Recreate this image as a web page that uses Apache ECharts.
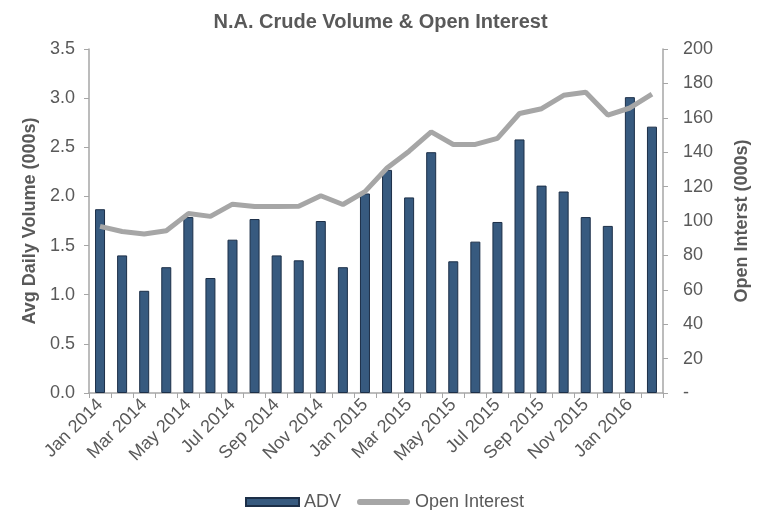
<!DOCTYPE html>
<html>
<head>
<meta charset="utf-8">
<script src="https://cdn.jsdelivr.net/npm/echarts@6/dist/echarts.min.js"></script>
<style>
  html, body { margin: 0; padding: 0; background: #fff; }
  #chart { width: 761px; height: 510px; }
</style>
</head>
<body>
<div id="chart"></div>
<script>
// 月份
const months = [
  "Jan 2014", "Feb 2014", "Mar 2014", "Apr 2014", "May 2014", "Jun 2014",
  "Jul 2014", "Aug 2014", "Sep 2014", "Oct 2014", "Nov 2014", "Dec 2014",
  "Jan 2015", "Feb 2015", "Mar 2015", "Apr 2015", "May 2015", "Jun 2015",
  "Jul 2015", "Aug 2015", "Sep 2015", "Oct 2015", "Nov 2015", "Dec 2015",
  "Jan 2016", "Feb 2016"
];
// 日均成交量 (000s)
const adv = [
  1.87, 1.40, 1.04, 1.28, 1.79, 1.17, 1.56, 1.77, 1.40, 1.35, 1.75, 1.28,
  2.03, 2.27, 1.99, 2.45, 1.34, 1.54, 1.74, 2.58, 2.11, 2.05, 1.79, 1.70,
  3.01, 2.71
];
// 持仓量 (000s)
const openInterest = [
  96.9, 93.9, 92.5, 94.3, 104.3, 102.7, 109.8, 108.4, 108.4, 108.6, 114.7, 109.6,
  117.1, 130.8, 140.6, 151.8, 144.5, 144.5, 148.0, 162.5, 165.3, 173.1, 174.9, 161.6,
  165.7, 173.7
];

const textColor = "#595959";
const axisColor = "#a6a6a6";
const font = "'Liberation Sans', Arial, sans-serif";

const chart = echarts.init(document.getElementById("chart"));
chart.setOption({
  animation: false,
  textStyle: { fontFamily: font },
  title: {
    text: "N.A. Crude Volume & Open Interest",
    left: "center",
    top: 7,
    textStyle: { color: textColor, fontSize: 20, fontWeight: "bold", fontFamily: font },
  },
  legend: {
    top: 488,
    left: 240,
    itemWidth: 53,
    itemHeight: 8,
    itemGap: 16,
    textStyle: { color: textColor, fontSize: 18, fontFamily: font },
    data: [
      { name: "ADV", icon: "rect" },
      // 灰色圆角线段图例
      { name: "Open Interest", icon: "path://M3,0 L52,0 A3,3 0 0 1 52,6 L3,6 A3,3 0 0 1 3,0 Z" },
    ],
  },
  grid: { left: 89, right: 98, top: 49, bottom: 117 },
  xAxis: {
    type: "category",
    data: months,
    axisLine: { lineStyle: { color: axisColor, width: 1.5 } },
    axisTick: { show: true, interval: 0, length: 5, lineStyle: { color: axisColor } },
    axisLabel: {
      interval: 1,
      rotate: 45,
      color: textColor,
      fontSize: 18,
      margin: 9,
    },
  },
  yAxis: [
    {
      type: "value",
      name: "Avg Daily Volume (000s)",
      nameLocation: "middle",
      nameGap: 50,
      nameTextStyle: { color: textColor, fontSize: 18, fontWeight: "bold" },
      min: 0,
      max: 3.5,
      interval: 0.5,
      axisLine: { show: true, lineStyle: { color: axisColor, width: 1.5 } },
      axisTick: { show: true, length: 5, lineStyle: { color: axisColor } },
      splitLine: { show: false },
      axisLabel: {
        color: textColor,
        fontSize: 18,
        margin: 14,
        formatter: (v) => v.toFixed(1),
      },
    },
    {
      type: "value",
      name: "Open Interst (000s)",
      nameLocation: "middle",
      nameGap: 70,
      nameRotate: 90,
      nameTextStyle: { color: textColor, fontSize: 18, fontWeight: "bold" },
      min: 0,
      max: 200,
      interval: 20,
      axisLine: { show: true, lineStyle: { color: axisColor, width: 1.5 } },
      axisTick: { show: true, length: 5, lineStyle: { color: axisColor } },
      splitLine: { show: false },
      axisLabel: {
        color: textColor,
        fontSize: 18,
        margin: 20,
        formatter: (v) => (v === 0 ? "-" : String(v)),
      },
    },
  ],
  series: [
    {
      name: "ADV",
      type: "bar",
      data: adv,
      barWidth: 10,
      itemStyle: { color: "#375a7f", borderColor: "#1c2f48", borderWidth: 1 },
    },
    {
      name: "Open Interest",
      type: "line",
      yAxisIndex: 1,
      data: openInterest,
      showSymbol: false,
      symbol: "none",
      lineStyle: { color: "#a6a6a6", width: 5 },
      itemStyle: { color: "#a6a6a6" },
    },
  ],
});
</script>
</body>
</html>
